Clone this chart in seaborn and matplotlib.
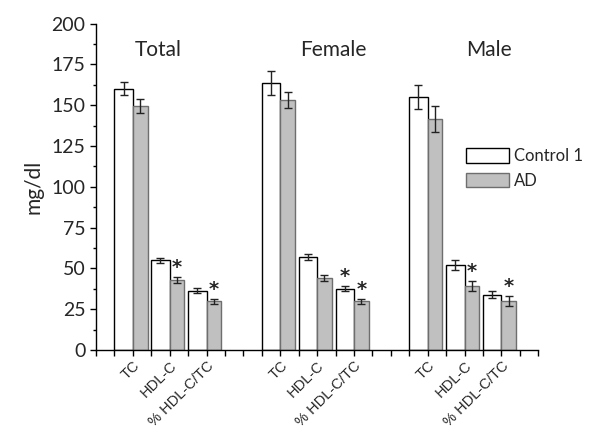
import numpy as np
import seaborn as sns
import matplotlib.pyplot as plt
from matplotlib.patches import Patch

# data
groups = ['Total', 'Female', 'Male']
measures = ['TC', 'HDL-C', '% HDL-C/TC']

control_mean = [160.0, 55.0, 36.3, 163.5, 57.0, 37.7, 155.0, 52.0, 34.0]
control_sd = [4.0, 1.6, 1.5, 7.5, 2.0, 1.7, 7.3, 3.2, 2.2]
ad_mean = [149.5, 43.0, 30.0, 153.0, 44.0, 30.0, 141.5, 39.0, 30.0]
ad_sd = [4.0, 2.0, 1.5, 5.0, 2.0, 1.5, 8.0, 3.0, 3.2]

control_sig = [0, 0, 0, 0, 0, 1, 0, 0, 0]
ad_sig = [0, 1, 1, 0, 0, 1, 0, 1, 1]

sns.set_theme(style='ticks')
plt.rcParams['font.family'] = ['Lato', 'DejaVu Sans']

# label tick of each bar pair: 2,4,6 | 10,12,14 | 18,20,22
label_pos = np.array([8 * g + 2 + 2 * m for g in range(3) for m in range(3)], dtype=float)
ctrl_x = label_pos - 0.5
ad_x = label_pos + 0.4

fig = plt.figure(figsize=(6, 4.37), dpi=100)
ax = fig.add_axes([0.16, 0.199, 0.737, 0.747])

sns.barplot(x=ctrl_x, y=control_mean, native_scale=True, width=0.5, color='white',
            saturation=1, edgecolor='black', linewidth=1, errorbar=None, ax=ax)
sns.barplot(x=ad_x, y=ad_mean, native_scale=True, width=0.4, color='#c0c0c0',
            saturation=1, edgecolor='#6e6e6e', linewidth=1, errorbar=None, ax=ax)

ax.errorbar(ctrl_x, control_mean, yerr=control_sd, fmt='none', ecolor='#222222',
            elinewidth=1, capsize=3, capthick=1)
ax.errorbar(ad_x, ad_mean, yerr=ad_sd, fmt='none', ecolor='#222222',
            elinewidth=1, capsize=3, capthick=1)

# significance stars
for xs, means, sds, sig in [(ctrl_x, control_mean, control_sd, control_sig),
                            (ad_x, ad_mean, ad_sd, ad_sig)]:
    for x, m, s, f in zip(xs, means, sds, sig):
        if f:
            ax.annotate('*', (x, m + s), xytext=(0, 0), textcoords='offset points',
                        ha='center', va='bottom', fontsize=14, fontweight='bold',
                        family='DejaVu Sans')

# group titles
for name, gx in zip(groups, [3.4, 12.9, 21.3]):
    ax.text(gx, 184, name, ha='center', va='center', fontsize=15)

ax.set_xlim(0, 24)
ax.set_ylim(0, 200)
ax.set_xticks(np.arange(0, 25))
labels = [''] * 25
for p, lab in zip(label_pos, measures * 3):
    labels[int(p)] = lab
ax.set_xticklabels(labels, rotation=45, ha='right', rotation_mode='anchor',
                   fontsize=10.5, family='Liberation Sans')
ax.set_yticks(np.arange(0, 201, 25))
ax.set_yticks(np.arange(12.5, 200, 25), minor=True)
ax.tick_params(axis='y', labelsize=14, length=4, width=1, direction='out', color='black')
ax.tick_params(axis='y', which='minor', length=2.5, width=1, color='black', left=True)
ax.tick_params(axis='x', length=4, width=1, direction='out', color='black', pad=2)
ax.set_ylabel('mg/dl', fontsize=15, labelpad=6)

for side in ['top', 'right']:
    ax.spines[side].set_visible(False)
for side in ['left', 'bottom']:
    ax.spines[side].set_color('black')
    ax.spines[side].set_linewidth(1)

handles = [Patch(facecolor='white', edgecolor='black', label='Control 1'),
           Patch(facecolor='#c0c0c0', edgecolor='#6e6e6e', label='AD')]
fig.legend(handles=handles, loc='upper left', bbox_to_anchor=(0.776, 1 - 148 / 437),
           frameon=False, fontsize=12, handlelength=2.6, handleheight=1.0,
           labelspacing=0.5, handletextpad=0.3, borderpad=0, borderaxespad=0)

fig.savefig('out.png', dpi=100)
